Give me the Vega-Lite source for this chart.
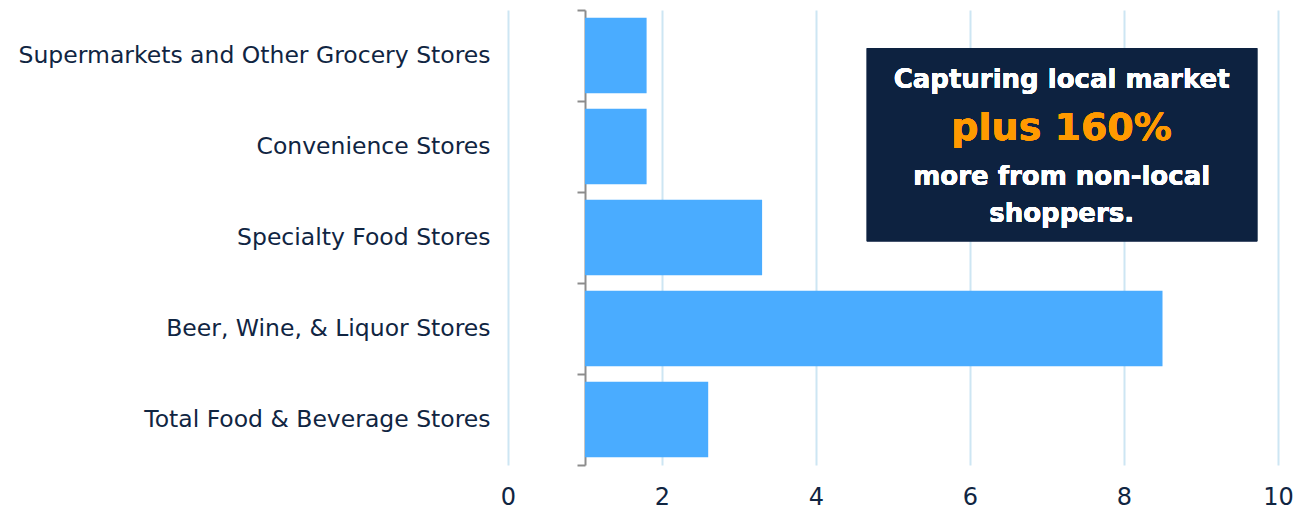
{
  "$schema": "https://vega.github.io/schema/vega-lite/v6.json",
  "width": 770,
  "height": 455,
  "autosize": {"type": "none"},
  "padding": {"left": 508, "top": 10, "right": 30, "bottom": 47},
  "background": "white",
  "config": {"view": {"stroke": null}, "font": "DejaVu Sans"},
  "data": {"values": [
    {"category": "Supermarkets and Other Grocery Stores", "value": 1.8},
    {"category": "Convenience Stores", "value": 1.8},
    {"category": "Specialty Food Stores", "value": 3.3},
    {"category": "Beer, Wine, & Liquor Stores", "value": 8.5},
    {"category": "Total Food & Beverage Stores", "value": 2.6}
  ]},
  "layer": [
    {
      "mark": {"type": "bar", "color": "#4AACFF", "height": {"band": 0.83}},
      "encoding": {
        "y": {
          "field": "category", "type": "nominal", "sort": null,
          "scale": {"paddingInner": 0, "paddingOuter": 0},
          "axis": {
            "title": null, "orient": "left", "offset": -77,
            "domainColor": "#8C8C8C", "domainWidth": 2,
            "tickColor": "#8C8C8C", "tickWidth": 2, "tickSize": 8, "tickBand": "extent",
            "labelPadding": 87, "labelFontSize": 23.5, "labelColor": "#102542", "labelLimit": 600,
            "labelFont": "DejaVu Sans"
          }
        },
        "x": {
          "field": "value", "type": "quantitative", "title": null,
          "scale": {"domain": [0, 10], "nice": false, "zero": false},
          "axis": {
            "values": [0, 2, 4, 6, 8, 10], "format": "d", "domain": false, "ticks": false,
            "grid": true, "gridColor": "#CDE6F3", "gridWidth": 2,
            "labelFontSize": 24, "labelColor": "#102542", "labelPadding": 20,
            "labelFont": "DejaVu Sans", "labelFlush": false
          }
        },
        "x2": {"datum": 1}
      }
    },
    {
      "layer": [
        {
          "mark": {"type": "rect", "color": "#0D2240"},
          "encoding": {
            "x": {"datum": 4.66, "type": "quantitative", "title": null},
            "x2": {"datum": 9.73},
            "y": {"datum": 0.42, "type": "quantitative", "title": null, "axis": null, "scale": {"domain": [0, 5], "reverse": true, "nice": false, "zero": false}},
            "y2": {"datum": 2.54}
          }
        },
        {
          "mark": {"type": "text", "color": "#FFFFFF", "fontWeight": "bold", "fontSize": 26, "baseline": "alphabetic", "align": "center", "font": "DejaVu Sans"},
          "encoding": {
            "x": {"datum": 7.19, "type": "quantitative", "title": null},
            "y": {"datum": 0.857, "type": "quantitative", "title": null, "axis": null},
            "text": {"value": "Capturing local market"}
          }
        },
        {
          "mark": {"type": "text", "color": "#FF9A00", "fontWeight": "bold", "fontSize": 38, "baseline": "alphabetic", "align": "center", "font": "DejaVu Sans"},
          "encoding": {
            "x": {"datum": 7.19, "type": "quantitative", "title": null},
            "y": {"datum": 1.429, "type": "quantitative", "title": null, "axis": null},
            "text": {"value": "plus 160%"}
          }
        },
        {
          "mark": {"type": "text", "color": "#FFFFFF", "fontWeight": "bold", "fontSize": 26, "baseline": "alphabetic", "align": "center", "font": "DejaVu Sans"},
          "encoding": {
            "x": {"datum": 7.19, "type": "quantitative", "title": null},
            "y": {"datum": 1.923, "type": "quantitative", "title": null, "axis": null},
            "text": {"value": "more from non-local"}
          }
        },
        {
          "mark": {"type": "text", "color": "#FFFFFF", "fontWeight": "bold", "fontSize": 26, "baseline": "alphabetic", "align": "center", "font": "DejaVu Sans"},
          "encoding": {
            "x": {"datum": 7.19, "type": "quantitative", "title": null},
            "y": {"datum": 2.33, "type": "quantitative", "title": null, "axis": null},
            "text": {"value": "shoppers."}
          }
        }
      ]
    }
  ],
  "resolve": {"scale": {"y": "independent"}}
}
